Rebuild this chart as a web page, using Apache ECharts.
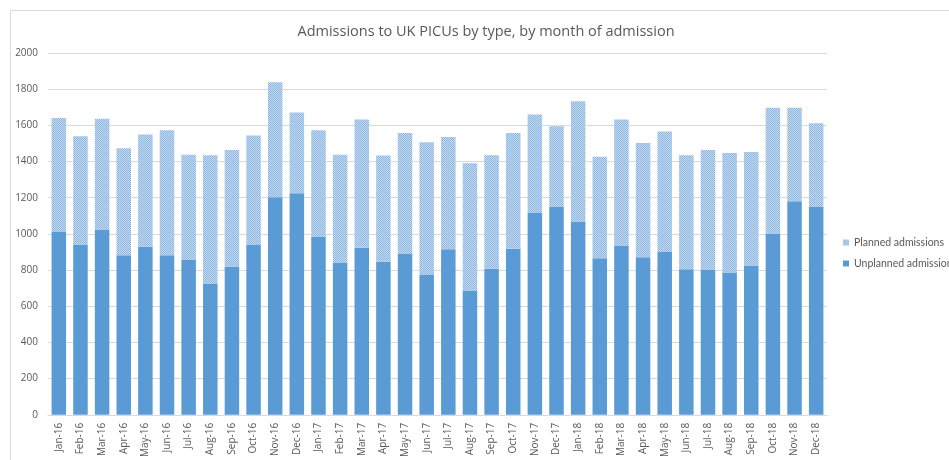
<!DOCTYPE html>
<html><head><meta charset="utf-8">
<script src="https://cdn.jsdelivr.net/npm/echarts@6/dist/echarts.min.js"></script>
<style>html,body{margin:0;padding:0;background:#fff}#c{width:949px;height:460px}</style>
</head><body><div id="c"></div>
<script>
const categories = ["Jan-16","Feb-16","Mar-16","Apr-16","May-16","Jun-16","Jul-16","Aug-16","Sep-16","Oct-16","Nov-16","Dec-16",
"Jan-17","Feb-17","Mar-17","Apr-17","May-17","Jun-17","Jul-17","Aug-17","Sep-17","Oct-17","Nov-17","Dec-17",
"Jan-18","Feb-18","Mar-18","Apr-18","May-18","Jun-18","Jul-18","Aug-18","Sep-18","Oct-18","Nov-18","Dec-18"];
const unplanned = [1011,942,1024,882,929,882,856,726,818,938,1202,1224,
985,842,924,846,889,773,915,687,807,918,1116,1149,
1069,865,933,871,900,805,800,786,822,1002,1180,1149];
const planned = [629,598,613,591,620,691,582,709,646,606,636,447,
588,596,709,587,669,734,620,704,628,640,544,446,
664,561,700,631,666,630,664,661,631,696,518,462];
const yTicks = [0,200,400,600,800,1000,1200,1400,1600,1800,2000];

function makePattern(){
  const c = document.createElement('canvas'); c.width = 2; c.height = 2;
  const g = c.getContext('2d');
  g.fillStyle = '#c4d9ef'; g.fillRect(0,0,2,2);
  g.fillStyle = '#8cb8e2'; g.fillRect(0,0,1,1); g.fillRect(1,1,1,1);
  return c;
}
const pat = makePattern();

const chart = echarts.init(document.getElementById('c'), null, {renderer:'canvas'});
chart.setOption({
  animation:false,
  backgroundColor:'#fff',
  textStyle:{fontFamily:'Lato, Open Sans, sans-serif'},
  title:{text:'Admissions to UK PICUs by type, by month of admission', left:481, top:19, textAlign:'center',
    textStyle:{fontSize:14.5, fontWeight:'normal', color:'#595959', fontFamily:'Open Sans, Liberation Sans, sans-serif'}},
  graphic:[{type:'rect', shape:{x:10.5,y:10.5,width:960,height:470}, style:{fill:'none', stroke:'#d9d9d9', lineWidth:1}, silent:true, z:-1}],
  legend:{orient:'vertical', left:838, top:232, itemWidth:6, itemHeight:6, itemGap:10,
    textStyle:{fontSize:10.5, color:'#595959', fontFamily:'Lato, sans-serif'},
    data:[{name:'Planned admissions', icon:'rect'},{name:'Unplanned admissions', icon:'rect'}]},
  grid:{left:48, right:122, top:53, bottom:41, containLabel:false},
  xAxis:{type:'category', data:categories,
    axisLine:{lineStyle:{color:'#d9d9d9'}}, axisTick:{show:false},
    axisLabel:{rotate:90, interval:0, fontSize:10, color:'#595959', margin:8, fontFamily:'Open Sans, sans-serif'}},
  yAxis:{type:'value', min:yTicks[0], max:yTicks[yTicks.length-1], interval:200,
    axisLine:{show:false}, axisTick:{show:false},
    splitLine:{lineStyle:{color:'#d9d9d9'}},
    axisLabel:{fontSize:10, color:'#595959', margin:10, fontFamily:'Open Sans, sans-serif', formatter:function(v){return String(v);}}},
  series:[
    {name:'Unplanned admissions', type:'bar', stack:'a', data:unplanned, barCategoryGap:'33%',
      itemStyle:{color:'#5b9bd5'}},
    {name:'Planned admissions', type:'bar', stack:'a', data:planned,
      itemStyle:{color:{image:pat, repeat:'repeat'}}}
  ]
});
</script></body></html>
